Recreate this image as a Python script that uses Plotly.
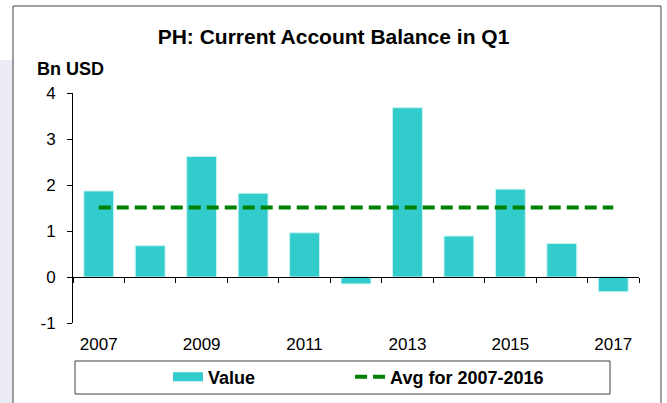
import plotly.graph_objects as go

years = ["2007", "2008", "2009", "2010", "2011", "2012", "2013", "2014", "2015", "2016", "2017"]
values = [1.87, 0.68, 2.62, 1.82, 0.96, -0.15, 3.68, 0.89, 1.91, 0.73, -0.32]
avg_values = [1.51, 1.51, 1.51, 1.51, 1.51, 1.51, 1.51, 1.51, 1.51, 1.51, 1.51]
label_years = ["2007", "2009", "2011", "2013", "2015", "2017"]
y_ticks = [-1, 0, 1, 2, 3, 4]
y_tick_text = ["-1", "0", "1", "2", "3", "4"]

FONT = "Liberation Sans, Arial, sans-serif"
BAR = "#33CCCC"
GREEN = "#008000"
PAD = "\u00a0" * 18

fig = go.Figure()
fig.add_trace(go.Bar(x=years, y=values, marker=dict(color=BAR, line=dict(color="#c8f2f2", width=1)),
                     showlegend=False, name="Value"))
fig.add_trace(go.Scatter(x=[None], y=[None], mode="lines", name="<b>Value</b>" + PAD,
                         line=dict(color=BAR, width=9)))
fig.add_trace(go.Scatter(x=years, y=avg_values, mode="lines", name="<b>Avg for 2007-2016</b>",
                         xaxis="x2", line=dict(color=GREEN, width=4, dash="12px,6px")))

W, H = 667, 403
L, R, T, B = 73, 28, 93, 80
pw, ph = W - L - R, H - T - B

def px_x(x):
    return (x - L) / pw

def px_y(y):
    return (H - B - y) / ph

fig.update_layout(
    width=W, height=H,
    margin=dict(l=L, r=R, t=T, b=B, autoexpand=False),
    paper_bgcolor="white", plot_bgcolor="white",
    font=dict(family=FONT, size=17, color="black"),
    bargap=0.42,
    title=dict(text="<b>PH: Current Account Balance in Q1</b>", x=0.5, xanchor="center",
               y=1 - 37 / H, yanchor="middle", font=dict(size=21, family=FONT, color="black")),
    xaxis=dict(type="category", categoryorder="array", categoryarray=years,
               range=[-0.5, 10.5], tickmode="array", tickvals=label_years, ticktext=label_years,
               ticks="", showline=False, showgrid=False, zeroline=False,
               ticklabelstandoff=9, tickfont=dict(size=17)),
    xaxis2=dict(type="category", categoryorder="array", categoryarray=years,
                overlaying="x", anchor="free", position=0.2, range=[-0.5, 10.5],
                tickmode="array", tickvals=years, tickson="boundaries",
                ticks="outside", ticklen=5, tickcolor="black", showticklabels=False,
                showline=True, linecolor="black", linewidth=1, showgrid=False, zeroline=False),
    yaxis=dict(range=[-1, 4], tickmode="array", tickvals=y_ticks, ticktext=y_tick_text,
               ticks="outside", ticklen=5,
               tickcolor="black", showline=True, linecolor="black", linewidth=1,
               showgrid=False, zeroline=False, ticklabelstandoff=8, tickfont=dict(size=17)),
    legend=dict(orientation="h", x=px_x(168), xanchor="left", y=px_y(377), yanchor="middle",
                font=dict(size=18, family=FONT, color="black"), bgcolor="rgba(0,0,0,0)",
                traceorder="normal"),
    annotations=[dict(text="<b>Bn USD</b>", xref="paper", yref="paper", x=px_x(35), y=px_y(69),
                      xanchor="left", yanchor="middle", showarrow=False,
                      font=dict(size=18, family=FONT, color="black"))],
    shapes=[
        dict(type="rect", xref="paper", yref="paper", x0=px_x(0), x1=px_x(13), y0=px_y(H + 5),
             y1=px_y(60), fillcolor="#ececf6", line=dict(width=0), layer="below"),
        dict(type="rect", xref="paper", yref="paper", x0=px_x(13), x1=px_x(661), y0=px_y(H + 5),
             y1=px_y(6), fillcolor="rgba(0,0,0,0)", line=dict(color="#404040", width=1)),
        dict(type="rect", xref="paper", yref="paper", x0=px_x(75), x1=px_x(610), y0=px_y(394),
             y1=px_y(361), fillcolor="rgba(0,0,0,0)", line=dict(color="#404040", width=1)),
    ],
)

fig.write_html("out.html", config={"displayModeBar": False},
               post_script="document.body.style.margin='0';")
